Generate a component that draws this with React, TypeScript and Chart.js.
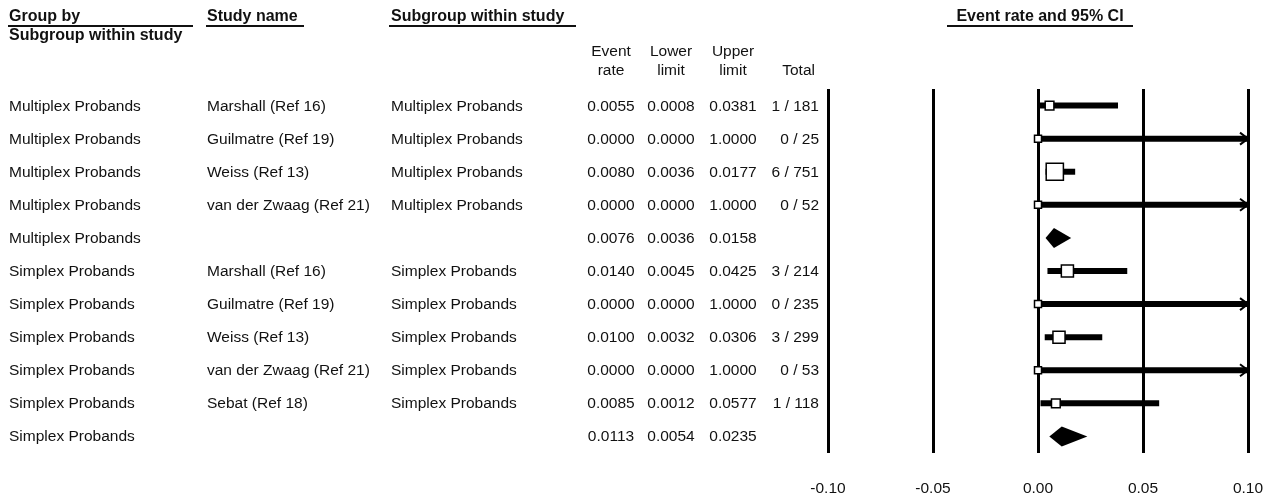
import React, { useEffect, useRef } from "react";
import { Chart, registerables } from "chart.js";

Chart.register(...registerables);

// ---------------- data ----------------
const groupLabels = [
  "Multiplex Probands",
  "Multiplex Probands",
  "Multiplex Probands",
  "Multiplex Probands",
  "Multiplex Probands",
  "Simplex Probands",
  "Simplex Probands",
  "Simplex Probands",
  "Simplex Probands",
  "Simplex Probands",
  "Simplex Probands",
];
const studyNames = [
  "Marshall (Ref 16)",
  "Guilmatre (Ref 19)",
  "Weiss (Ref 13)",
  "van der Zwaag (Ref 21)",
  "",
  "Marshall (Ref 16)",
  "Guilmatre (Ref 19)",
  "Weiss (Ref 13)",
  "van der Zwaag (Ref 21)",
  "Sebat (Ref 18)",
  "",
];
const subgroupLabels = [
  "Multiplex Probands",
  "Multiplex Probands",
  "Multiplex Probands",
  "Multiplex Probands",
  "",
  "Simplex Probands",
  "Simplex Probands",
  "Simplex Probands",
  "Simplex Probands",
  "Simplex Probands",
  "",
];
const eventRate = [0.0055, 0.0, 0.008, 0.0, 0.0076, 0.014, 0.0, 0.01, 0.0, 0.0085, 0.0113];
const lowerLimit = [0.0008, 0.0, 0.0036, 0.0, 0.0036, 0.0045, 0.0, 0.0032, 0.0, 0.0012, 0.0054];
const upperLimit = [0.0381, 1.0, 0.0177, 1.0, 0.0158, 0.0425, 1.0, 0.0306, 1.0, 0.0577, 0.0235];
const events = [1, 0, 6, 0, null, 3, 0, 3, 0, 1, null];
const totals = [181, 25, 751, 52, null, 214, 235, 299, 53, 118, null];
const xTicks = [-0.1, -0.05, 0.0, 0.05, 0.1];

// ---------------- layout ----------------
const W = 1278;
const H = 499;
const PLOT_TOP = 89;
const PLOT_BOTTOM = 453;
const PLOT_LEFT = 828;
const PLOT_RIGHT = 1248;
const ROW_H = (PLOT_BOTTOM - PLOT_TOP) / groupLabels.length;
const FONT = '"Liberation Sans", Arial, Helvetica, sans-serif';
const TEXT_COLOR = "#111";

const rowCenter = (i: number) => PLOT_TOP + ROW_H * (i + 0.5);

type TxtOpts = { align?: "left" | "center" | "right"; bold?: boolean; size?: number };

function Txt(props: { text: string; x: number; cy: number } & TxtOpts) {
  const { text, x, cy, align = "left", bold = false, size = 15.5 } = props;
  const boxW = 200;
  let left = x;
  if (align === "center") left = x - boxW / 2;
  if (align === "right") left = x - boxW;
  return (
    <div
      style={{
        position: "absolute",
        left,
        top: cy - 10,
        width: align === "left" ? undefined : boxW,
        height: 20,
        lineHeight: "20px",
        fontSize: size,
        fontWeight: bold ? 700 : 400,
        fontFamily: FONT,
        color: TEXT_COLOR,
        whiteSpace: "nowrap",
        textAlign: align,
      }}
    >
      {text}
    </div>
  );
}

function Rule(props: { x1: number; x2: number; y: number }) {
  return (
    <div
      style={{
        position: "absolute",
        left: props.x1,
        top: props.y,
        width: props.x2 - props.x1,
        height: 2,
        background: "#111",
      }}
    />
  );
}

export default function App() {
  const canvasRef = useRef<HTMLCanvasElement | null>(null);

  useEffect(() => {
    const canvas = canvasRef.current;
    if (!canvas) return;
    const xMin = xTicks[0];
    const xMax = xTicks[xTicks.length - 1];
    const idx = eventRate.map((_, i) => i);
    const studyIdx = idx.filter((i) => studyNames[i] !== "");
    const summaryIdx = idx.filter((i) => studyNames[i] === "");
    const sqRadius = (i: number) => (8.5 + 1.7 * (events[i] as number) - 1.5) / Math.SQRT2;

    const ciDatasets = studyIdx.map((i) => ({
      data: [
        { x: lowerLimit[i], y: i },
        { x: upperLimit[i], y: i },
      ],
      showLine: true,
      borderColor: "#000",
      borderWidth: 6,
      pointRadius: 0,
      pointHoverRadius: 0,
      clip: 0,
      order: 1,
    }));

    const squareDataset = {
      data: studyIdx.map((i) => ({ x: eventRate[i], y: i })),
      showLine: false,
      pointStyle: "rect",
      pointRadius: studyIdx.map(sqRadius),
      pointHoverRadius: studyIdx.map(sqRadius),
      backgroundColor: "#fff",
      borderColor: "#000",
      borderWidth: 1.5,
      clip: false,
      order: 0,
    };

    const marksPlugin = {
      id: "forestMarks",
      afterDatasetsDraw(chart: any) {
        const { ctx } = chart;
        const xs = chart.scales.x;
        const ys = chart.scales.y;
        ctx.save();
        ctx.fillStyle = "#000";
        ctx.strokeStyle = "#000";
        // summary diamonds
        summaryIdx.forEach((i) => {
          const yc = ys.getPixelForValue(i);
          const l = xs.getPixelForValue(lowerLimit[i]);
          const e = xs.getPixelForValue(eventRate[i]);
          const u = xs.getPixelForValue(upperLimit[i]);
          ctx.beginPath();
          ctx.moveTo(l, yc);
          ctx.lineTo(e, yc - 10);
          ctx.lineTo(u, yc);
          ctx.lineTo(e, yc + 10);
          ctx.closePath();
          ctx.fill();
        });
        // arrows for CIs running off the axis
        studyIdx.forEach((i) => {
          if (upperLimit[i] > xMax) {
            const xe = xs.getPixelForValue(xMax);
            const yc = ys.getPixelForValue(i);
            ctx.lineWidth = 2;
            ctx.beginPath();
            ctx.moveTo(xe - 8, yc - 6);
            ctx.lineTo(xe, yc);
            ctx.lineTo(xe - 8, yc + 6);
            ctx.stroke();
          }
        });
        ctx.restore();
      },
    };

    const chart = new Chart(canvas, {
      type: "scatter",
      data: { datasets: [squareDataset, ...ciDatasets] as any },
      options: {
        animation: false,
        responsive: false,
        devicePixelRatio: 1,
        events: [],
        layout: {
          padding: { left: PLOT_LEFT, right: W - PLOT_RIGHT, top: PLOT_TOP, bottom: 0 },
        },
        plugins: {
          legend: { display: false },
          tooltip: { enabled: false },
          title: { display: false },
        },
        scales: {
          x: {
            type: "linear",
            min: xMin,
            max: xMax,
            afterBuildTicks: (s: any) => {
              s.ticks = xTicks.map((v) => ({ value: v }));
            },
            afterFit: (s: any) => {
              s.height = H - PLOT_BOTTOM;
              s.paddingLeft = 0;
              s.paddingRight = 0;
            },
            grid: { color: "#000", lineWidth: 3, drawTicks: false },
            border: { display: false },
            ticks: {
              autoSkip: false,
              maxRotation: 0,
              padding: 26,
              color: TEXT_COLOR,
              font: { family: FONT, size: 15.5 },
              callback: (v: any) => Number(v).toFixed(2),
            },
          },
          y: {
            type: "linear",
            min: -0.5,
            max: groupLabels.length - 0.5,
            reverse: true,
            display: false,
          },
        },
      } as any,
      plugins: [marksPlugin],
    });
    return () => chart.destroy();
  }, []);

  const rows = groupLabels.map((g, i) => {
    const cy = rowCenter(i);
    const isSummary = studyNames[i] === "";
    return (
      <React.Fragment key={i}>
        <Txt text={g} x={9} cy={cy} />
        {studyNames[i] && <Txt text={studyNames[i]} x={207} cy={cy} />}
        {subgroupLabels[i] && <Txt text={subgroupLabels[i]} x={391} cy={cy} />}
        <Txt text={eventRate[i].toFixed(4)} x={611} cy={cy} align="center" />
        <Txt text={lowerLimit[i].toFixed(4)} x={671} cy={cy} align="center" />
        <Txt text={upperLimit[i].toFixed(4)} x={733} cy={cy} align="center" />
        {!isSummary && (
          <Txt text={`${events[i]} / ${totals[i]}`} x={819} cy={cy} align="right" />
        )}
      </React.Fragment>
    );
  });

  return (
    <div
      style={{
        position: "absolute",
        left: 0,
        top: 0,
        width: W,
        height: H,
        background: "#fff",
        overflow: "hidden",
      }}
    >
      <canvas
        ref={canvasRef}
        width={W}
        height={H}
        style={{ position: "absolute", left: 0, top: 0, width: W, height: H }}
      />
      <div style={{ position: "absolute", left: 0, top: 0, width: W, height: H, pointerEvents: "none" }}>
        <Txt text="Group by" x={9} cy={16} bold size={16} />
        <Rule x1={8} x2={193} y={25} />
        <Txt text="Subgroup within study" x={9} cy={35} bold size={16} />
        <Txt text="Study name" x={207} cy={16} bold size={16} />
        <Rule x1={206} x2={304} y={25} />
        <Txt text="Subgroup within study" x={391} cy={16} bold size={16} />
        <Rule x1={389} x2={576} y={25} />
        <Txt text="Event rate and 95% CI" x={1040} cy={16} bold size={16} align="center" />
        <Rule x1={947} x2={1133} y={25} />
        <Txt text="Event" x={611} cy={51} align="center" />
        <Txt text="rate" x={611} cy={70} align="center" />
        <Txt text="Lower" x={671} cy={51} align="center" />
        <Txt text="limit" x={671} cy={70} align="center" />
        <Txt text="Upper" x={733} cy={51} align="center" />
        <Txt text="limit" x={733} cy={70} align="center" />
        <Txt text="Total" x={815} cy={70} align="right" />
        {rows}
      </div>
    </div>
  );
}
